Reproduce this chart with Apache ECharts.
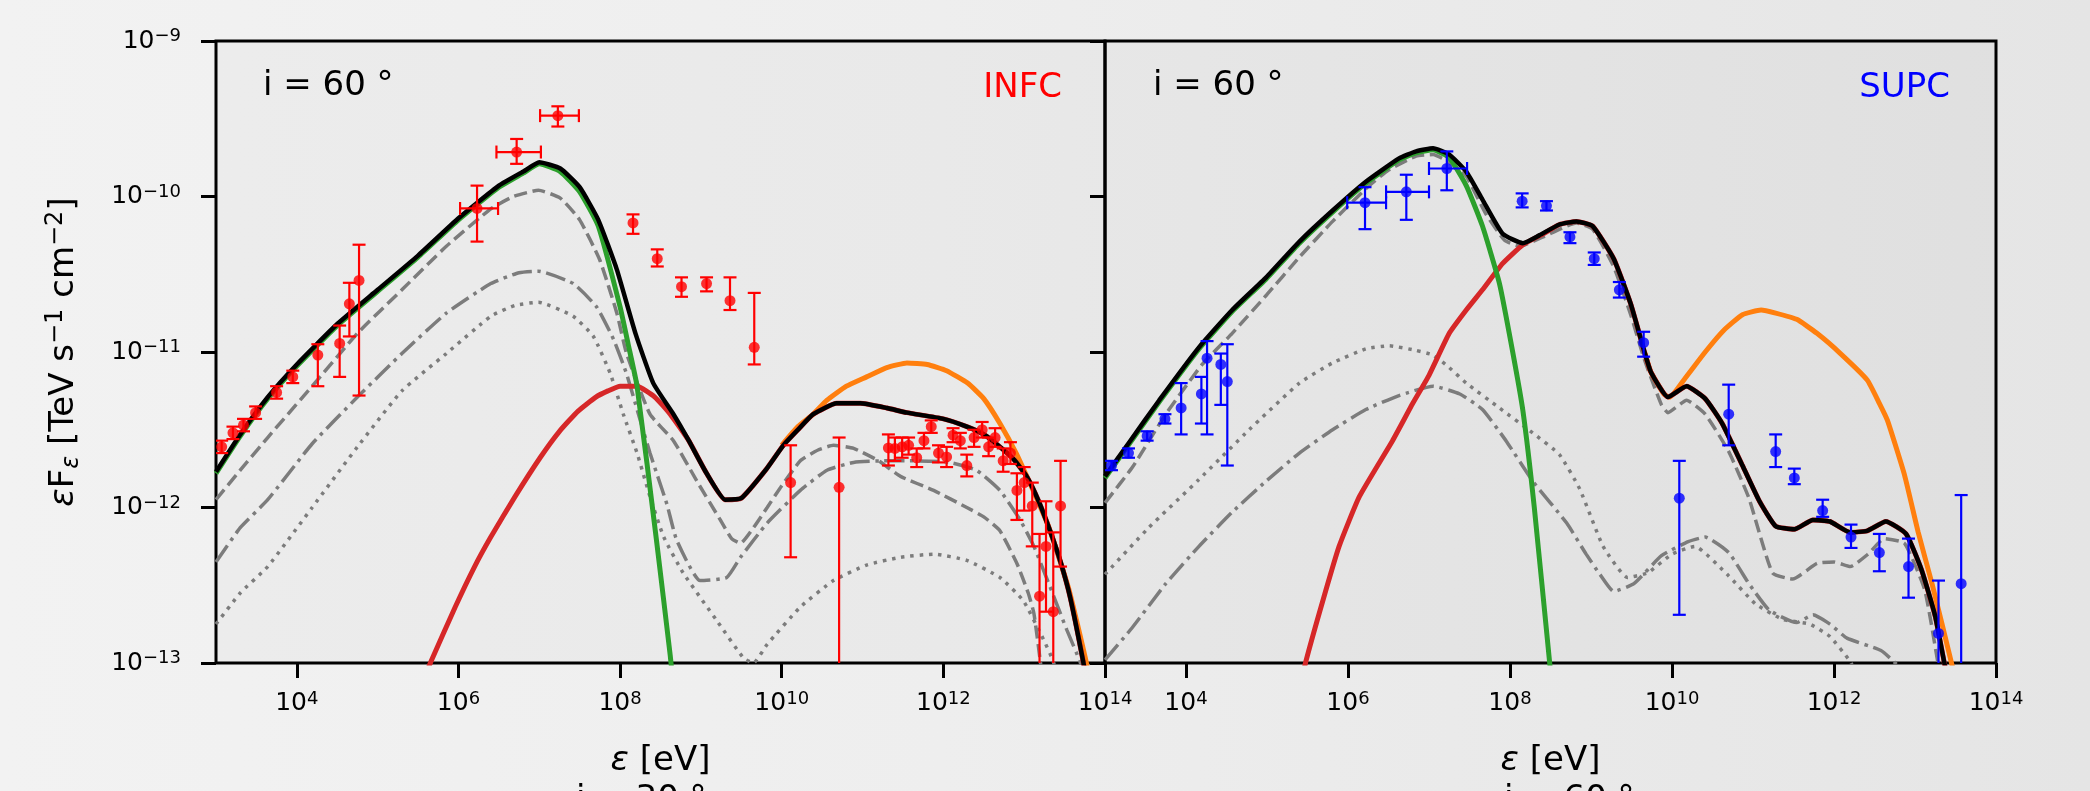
<!DOCTYPE html>
<html>
<head>
<meta charset="utf-8">
<script src="https://cdn.jsdelivr.net/npm/echarts@6/dist/echarts.min.js"></script>
<style>
html, body { margin: 0; padding: 0; width: 2090px; height: 791px; overflow: hidden;
  background: linear-gradient(90deg, #f2f2f2 0%, #eeeeee 45%, #e5e5e5 100%); }
#chart { width: 2090px; height: 791px; }
</style>
</head>
<body>
<div id="chart"></div>
<script>
// every value below is log10: energy in eV, flux in TeV s^-1 cm^-2
const xTicks = [4, 6, 8, 10, 12, 14];
const yTicks = [-13, -12, -11, -10, -9];

// ---- INFC (left) model curves, [log E, log eF] ----
const infcTotal = [[3.0,-11.77],[3.3,-11.53],[3.64,-11.29],[4.0,-11.08],[4.5,-10.82],[5.0,-10.6],[5.5,-10.38],
  [6.0,-10.14],[6.5,-9.93],[6.8,-9.84],[7.0,-9.78],[7.26,-9.82],[7.5,-9.94],[7.73,-10.15],[7.96,-10.47],[8.19,-10.88],
  [8.41,-11.2],[8.66,-11.4],[8.85,-11.57],[9.07,-11.78],[9.3,-11.95],[9.5,-11.94],[9.8,-11.76],[10.02,-11.6],
  [10.2,-11.5],[10.39,-11.4],[10.68,-11.33],[10.97,-11.33],[11.3,-11.36],[11.55,-11.39],[12.0,-11.43],[12.29,-11.48],
  [12.5,-11.53],[12.7,-11.61],[12.87,-11.69],[13.03,-11.8],[13.18,-11.96],[13.32,-12.15],[13.45,-12.35],[13.57,-12.58],
  [13.73,-12.99],[13.8,-13.2]];
const infcSyn = [[3.0,-11.78],[3.3,-11.54],[3.64,-11.3],[4.0,-11.09],[4.5,-10.83],[5.0,-10.61],[5.5,-10.39],
  [6.0,-10.15],[6.5,-9.94],[6.8,-9.85],[7.0,-9.79],[7.26,-9.84],[7.5,-9.97],[7.73,-10.19],[8.0,-10.71],[8.1,-10.95],
  [8.21,-11.22],[8.45,-12.21],[8.62,-12.95],[8.7,-13.35]];
const infcIC = [[5.5,-13.2],[5.66,-12.99],[5.96,-12.64],[6.2,-12.38],[6.4,-12.19],[6.7,-11.93],[7.01,-11.68],
  [7.25,-11.51],[7.48,-11.38],[7.7,-11.29],[7.85,-11.25],[8.0,-11.22],[8.21,-11.22],[8.43,-11.29],[8.62,-11.4],
  [8.85,-11.57],[9.07,-11.78],[9.3,-11.95],[9.5,-11.94],[9.8,-11.76],[10.02,-11.6],[10.2,-11.5],[10.39,-11.4],
  [10.68,-11.33],[10.97,-11.33],[11.3,-11.36],[11.55,-11.39],[12.0,-11.43],[12.29,-11.48],[12.5,-11.53],
  [12.7,-11.61],[12.87,-11.69],[13.03,-11.8],[13.18,-11.96],[13.32,-12.15],[13.45,-12.35],[13.57,-12.58],
  [13.73,-12.99],[13.8,-13.2]];
const infcICnoAbs = [[10.0,-11.6],[10.2,-11.48],[10.39,-11.4],[10.56,-11.31],[10.8,-11.22],[11.05,-11.16],
  [11.3,-11.1],[11.55,-11.07],[11.8,-11.08],[12.04,-11.12],[12.3,-11.2],[12.5,-11.3],[12.7,-11.46],[12.9,-11.65],
  [13.05,-11.82],[13.3,-12.12],[13.55,-12.52],[13.77,-13.0],[13.85,-13.25]];
const infcDash = [[3.0,-11.95],[3.3,-11.76],[3.64,-11.55],[4.19,-11.22],[4.75,-10.88],[5.3,-10.6],[5.85,-10.32],
  [6.4,-10.08],[6.68,-10.0],[6.99,-9.96],[7.26,-10.01],[7.5,-10.15],[7.75,-10.41],[7.96,-10.75],[8.08,-11.01],
  [8.37,-11.4],[8.66,-11.57],[8.95,-11.83],[9.24,-12.08],[9.38,-12.2],[9.49,-12.23],[9.65,-12.13],
  [9.82,-12.0],[10.0,-11.86],[10.23,-11.7],[10.45,-11.63],[10.64,-11.6],[10.89,-11.62],[11.2,-11.7],[11.47,-11.8],
  [11.88,-11.89],[12.29,-12.0],[12.5,-12.06],[12.7,-12.15],[12.91,-12.36],[13.05,-12.55],[13.12,-12.68],
  [13.2,-12.99],[13.25,-13.2]];
const infcDashDot = [[3.0,-12.35],[3.3,-12.13],[3.64,-11.95],[4.19,-11.59],[4.75,-11.29],[5.3,-11.01],[5.85,-10.75],
  [6.4,-10.56],[6.75,-10.49],[6.99,-10.48],[7.42,-10.56],[7.71,-10.71],[7.92,-10.92],[8.08,-11.14],[8.25,-11.44],
  [8.37,-11.65],[8.58,-11.98],[8.7,-12.21],[8.99,-12.47],[9.32,-12.45],[9.49,-12.32],[9.82,-12.1],[10.23,-11.89],
  [10.56,-11.76],[10.89,-11.71],[11.26,-11.7],[11.67,-11.7],[12.08,-11.71],[12.41,-11.76],[12.7,-11.89],
  [12.95,-12.08],[13.12,-12.25],[13.32,-12.51],[13.53,-12.79],[13.69,-12.99],[13.75,-13.1]];
const infcDot = [[3.0,-12.75],[3.3,-12.55],[3.64,-12.38],[4.19,-12.0],[4.75,-11.61],[5.3,-11.25],[5.85,-11.01],
  [6.4,-10.77],[6.7,-10.7],[6.99,-10.68],[7.42,-10.77],[7.67,-10.9],[7.88,-11.14],[8.04,-11.4],[8.21,-11.65],
  [8.37,-11.93],[8.54,-12.19],[8.78,-12.42],[9.2,-12.73],[9.53,-12.97],[9.65,-13.0],[9.82,-12.88],[10.23,-12.64],
  [10.64,-12.47],[11.05,-12.37],[11.47,-12.32],[11.88,-12.3],[12.29,-12.34],[12.7,-12.45],[12.99,-12.6],
  [13.24,-12.85],[13.36,-12.99],[13.45,-13.2]];

// INFC data: [log E, log F, log F low, log F high, (log E low, log E high)]
const infcPts = [[3.07,-11.61,-11.65,-11.57],[3.21,-11.52,-11.56,-11.48],[3.34,-11.47,-11.51,-11.43],
  [3.49,-11.39,-11.43,-11.35],[3.75,-11.26,-11.3,-11.22],[3.95,-11.16,-11.2,-11.12],[4.26,-11.02,-11.22,-10.95],
  [4.53,-10.945,-11.16,-10.83],[4.65,-10.69,-10.9,-10.555],[4.77,-10.54,-11.28,-10.31],
  [6.23,-10.077,-10.29,-9.93,6.02,6.49],[6.72,-9.714,-9.79,-9.63,6.47,7.02],[7.23,-9.48,-9.55,-9.42,7.01,7.49],
  [8.16,-10.17,-10.24,-10.115],[8.46,-10.4,-10.45,-10.34],[8.76,-10.58,-10.645,-10.52],[9.07,-10.56,-10.61,-10.52],
  [9.36,-10.67,-10.73,-10.52],[9.66,-10.97,-11.08,-10.62],[10.11,-11.84,-12.32,-11.6],[10.71,-11.87,-13.5,-11.55],
  [11.32,-11.617,-11.73,-11.53],[11.4,-11.62,-11.7,-11.55],[11.49,-11.61,-11.68,-11.55],[11.57,-11.6,-11.66,-11.55],
  [11.67,-11.68,-11.74,-11.62],[11.76,-11.57,-11.62,-11.52],[11.85,-11.48,-11.52,-11.44],[11.94,-11.65,-11.71,-11.6],
  [12.04,-11.675,-11.74,-11.61],[12.12,-11.535,-11.58,-11.49],[12.21,-11.57,-11.62,-11.52],[12.29,-11.73,-11.8,-11.66],
  [12.38,-11.55,-11.61,-11.5],[12.48,-11.5,-11.55,-11.45],[12.56,-11.61,-11.67,-11.55],[12.64,-11.55,-11.61,-11.49],
  [12.74,-11.7,-11.77,-11.62],[12.83,-11.65,-11.72,-11.58],[12.91,-11.89,-12.08,-11.78],[13.0,-11.84,-12.02,-11.74],
  [13.1,-11.99,-12.25,-11.84],[13.19,-12.57,-13.5,-12.17],[13.27,-12.25,-12.67,-11.96],[13.36,-12.67,-13.5,-12.16],
  [13.45,-11.99,-12.38,-11.7]];

// ---- SUPC (right) model curves ----
const supcTotal = [[3.0,-11.8],[3.3,-11.58],[3.67,-11.31],[4.16,-10.97],[4.57,-10.73],[4.99,-10.52],[5.4,-10.29],
  [5.81,-10.09],[6.22,-9.905],[6.63,-9.755],[6.84,-9.71],[7.05,-9.69],[7.25,-9.73],[7.46,-9.84],[7.66,-10.02],
  [7.91,-10.24],[8.16,-10.3],[8.36,-10.25],[8.61,-10.18],[8.82,-10.16],[9.02,-10.19],[9.28,-10.4],[9.49,-10.69],
  [9.66,-11.0],[9.74,-11.13],[9.95,-11.29],[10.18,-11.22],[10.41,-11.3],[10.62,-11.46],[10.87,-11.73],[11.08,-11.96],
  [11.28,-12.12],[11.51,-12.14],[11.74,-12.08],[11.95,-12.09],[12.2,-12.16],[12.41,-12.15],[12.64,-12.09],
  [12.89,-12.17],[13.08,-12.4],[13.25,-12.7],[13.37,-13.02],[13.45,-13.2]];
const supcSyn = [[3.0,-11.81],[3.3,-11.59],[3.67,-11.32],[4.16,-10.98],[4.57,-10.74],[4.99,-10.53],[5.4,-10.3],
  [5.81,-10.1],[6.22,-9.915],[6.63,-9.765],[6.84,-9.72],[7.05,-9.7],[7.25,-9.75],[7.46,-9.93],[7.66,-10.19],
  [7.87,-10.56],[8.03,-10.99],[8.16,-11.38],[8.3,-12.0],[8.49,-13.0],[8.55,-13.3]];
const supcIC = [[5.35,-13.3],[5.48,-12.99],[5.7,-12.58],[5.89,-12.25],[6.14,-11.93],[6.55,-11.57],[6.8,-11.33],
  [7.0,-11.15],[7.25,-10.88],[7.46,-10.73],[7.66,-10.6],[7.91,-10.43],[8.16,-10.31],[8.41,-10.24],[8.61,-10.18],
  [8.82,-10.16],[9.02,-10.19],[9.28,-10.4],[9.49,-10.69],[9.66,-11.0],[9.74,-11.13],[9.95,-11.29],[10.18,-11.22],
  [10.41,-11.3],[10.62,-11.46],[10.87,-11.73],[11.08,-11.96],[11.28,-12.12],[11.51,-12.14],[11.74,-12.08],
  [11.95,-12.09],[12.2,-12.16],[12.41,-12.15],[12.64,-12.09],[12.89,-12.17],[13.08,-12.4],[13.25,-12.7],
  [13.37,-13.02],[13.45,-13.2]];
const supcICnoAbs = [[9.66,-11.0],[9.74,-11.13],[9.9,-11.27],[9.97,-11.29],[10.16,-11.17],[10.41,-11.0],
  [10.64,-10.86],[10.87,-10.76],[11.1,-10.73],[11.28,-10.75],[11.54,-10.79],[11.79,-10.88],[12.08,-11.01],
  [12.41,-11.18],[12.56,-11.33],[12.66,-11.44],[12.87,-11.79],[13.04,-12.16],[13.21,-12.49],[13.46,-13.02],[13.52,-13.2]];
const supcDash = [[3.0,-11.97],[3.34,-11.74],[3.75,-11.4],[4.2,-11.08],[4.57,-10.88],[5.0,-10.63],[5.4,-10.39],
  [5.81,-10.16],[6.22,-9.95],[6.5,-9.83],[6.84,-9.74],[7.05,-9.73],[7.25,-9.78],[7.46,-9.87],[7.7,-10.11],
  [7.93,-10.28],[8.12,-10.32],[8.41,-10.26],[8.82,-10.17],[9.02,-10.21],[9.28,-10.45],[9.49,-10.76],[9.66,-11.05],
  [9.87,-11.34],[9.95,-11.39],[10.18,-11.31],[10.41,-11.4],[10.7,-11.64],[10.95,-11.94],[11.24,-12.42],
  [11.49,-12.46],[11.79,-12.36],[12.0,-12.35],[12.2,-12.38],[12.42,-12.3],[12.62,-12.2],[12.87,-12.23],
  [13.12,-12.53],[13.29,-13.02],[13.35,-13.2]];
const supcDashDot = [[3.0,-12.98],[3.34,-12.77],[3.75,-12.49],[4.16,-12.25],[4.57,-12.03],[4.99,-11.83],
  [5.4,-11.65],[5.81,-11.5],[6.22,-11.37],[6.63,-11.28],[7.05,-11.22],[7.38,-11.27],[7.66,-11.37],[7.95,-11.57],
  [8.28,-11.83],[8.7,-12.1],[8.94,-12.3],[9.11,-12.43],[9.28,-12.54],[9.53,-12.49],[9.87,-12.31],[10.2,-12.22],
  [10.41,-12.19],[10.7,-12.29],[10.95,-12.49],[11.2,-12.66],[11.54,-12.74],[11.74,-12.69],[11.95,-12.75],
  [12.16,-12.84],[12.58,-12.92],[12.79,-13.02],[12.9,-13.15]];
const supcDot = [[3.0,-12.43],[3.54,-12.13],[4.16,-11.82],[4.78,-11.5],[5.4,-11.2],[5.81,-11.07],[6.22,-10.98],
  [6.51,-10.96],[6.84,-10.99],[7.05,-11.02],[7.25,-11.1],[7.46,-11.2],[7.87,-11.36],[8.28,-11.52],[8.61,-11.66],
  [8.86,-11.88],[9.15,-12.25],[9.45,-12.45],[9.7,-12.42],[10.0,-12.3],[10.28,-12.25],[10.7,-12.44],[11.03,-12.62],
  [11.37,-12.72],[11.7,-12.75],[11.95,-12.83],[12.2,-12.99],[12.3,-13.1]];

const supcPts = [[3.08,-11.73,-11.76,-11.7],[3.29,-11.65,-11.68,-11.62],[3.52,-11.54,-11.57,-11.51],
  [3.74,-11.43,-11.46,-11.4],[3.94,-11.36,-11.53,-11.2],[4.19,-11.27,-11.46,-11.16],[4.26,-11.04,-11.53,-10.93],
  [4.43,-11.08,-11.34,-11.01],[4.51,-11.19,-11.73,-10.95],
  [6.21,-10.04,-10.21,-9.94,5.99,6.47],[6.72,-9.97,-10.15,-9.86,6.47,7.0],[7.22,-9.82,-9.96,-9.71,7.0,7.47],
  [8.15,-10.03,-10.07,-9.98],[8.45,-10.06,-10.09,-10.03],[8.74,-10.26,-10.3,-10.23],[9.04,-10.4,-10.44,-10.36],
  [9.35,-10.6,-10.65,-10.55],[9.65,-10.94,-11.03,-10.87],[10.09,-11.94,-12.69,-11.7],[10.7,-11.4,-11.6,-11.21],
  [11.28,-11.64,-11.74,-11.53],[11.51,-11.81,-11.85,-11.75],[11.86,-12.02,-12.06,-11.95],[12.21,-12.19,-12.26,-12.11],
  [12.56,-12.29,-12.41,-12.17],[12.92,-12.38,-12.58,-12.2],[13.29,-12.81,-13.5,-12.47],[13.57,-12.49,-13.5,-11.92]];

const pw = v => Math.pow(10, v);
const toXY = arr => arr.map(p => [pw(p[0]), pw(p[1])]);
const toErr = arr => arr.map(r => [pw(r[0]), pw(r[1]), pw(r[2]), pw(r[3]),
  r.length > 4 ? pw(r[4]) : 0, r.length > 4 ? pw(r[5]) : 0]);

const FONT = 'DejaVu Sans';
const GREY = '#7c7c7c';

function powLabel(v) {
  const e = Math.round(Math.log10(v));
  return '{b|10}{s|' + (e < 0 ? '\u2212' + (-e) : e) + '}';
}
const tickRich = {
  b: { fontSize: 25, fontFamily: FONT, color: '#000', lineHeight: 27, verticalAlign: 'middle' },
  s: { fontSize: 18, fontFamily: FONT, color: '#000', lineHeight: 13, verticalAlign: 'top' }
};

function curve(data, i, color, width, dash, z) {
  return { type: 'line', xAxisIndex: i, yAxisIndex: i, data: toXY(data), symbol: 'none',
    smooth: 0.15, silent: true, z: z,
    lineStyle: { color: color, width: width, type: dash || 'solid', cap: 'butt' } };
}

function errSeries(rows, i, color) {
  return {
    type: 'custom', xAxisIndex: i, yAxisIndex: i, data: toErr(rows), clip: true, z: 6, silent: true,
    encode: { x: 0, y: 1 },
    renderItem: function (params, api) {
      const x = api.value(0), y = api.value(1);
      const lo = api.coord([x, api.value(2)]);
      const hi = api.coord([x, api.value(3)]);
      const c = api.coord([x, y]);
      const cap = 6.5;
      const st = { stroke: color, lineWidth: 2.2 };
      const kids = [
        { type: 'line', shape: { x1: lo[0], y1: lo[1], x2: hi[0], y2: hi[1] }, style: st },
        { type: 'line', shape: { x1: lo[0] - cap, y1: lo[1], x2: lo[0] + cap, y2: lo[1] }, style: st },
        { type: 'line', shape: { x1: hi[0] - cap, y1: hi[1], x2: hi[0] + cap, y2: hi[1] }, style: st }
      ];
      const xl = api.value(4), xh = api.value(5);
      if (xl > 0) {
        const l = api.coord([xl, y]), h = api.coord([xh, y]);
        kids.push({ type: 'line', shape: { x1: l[0], y1: c[1], x2: h[0], y2: c[1] }, style: st });
        kids.push({ type: 'line', shape: { x1: l[0], y1: c[1] - cap, x2: l[0], y2: c[1] + cap }, style: st });
        kids.push({ type: 'line', shape: { x1: h[0], y1: c[1] - cap, x2: h[0], y2: c[1] + cap }, style: st });
      }
      return { type: 'group', children: kids };
    }
  };
}

function dots(rows, i, color) {
  return { type: 'scatter', xAxisIndex: i, yAxisIndex: i, data: toXY(rows), symbol: 'circle',
    symbolSize: 11, itemStyle: { color: color }, z: 7, silent: true };
}

function panel(i, total, syn, ic, icNoAbs, dash, dashDot, dot, pts, color) {
  return [
    curve(dot, i, GREY, 3.5, [3.5, 5.8], 1),
    curve(dashDot, i, GREY, 3.5, [20, 5.6, 3.5, 5.6], 1),
    curve(dash, i, GREY, 3.5, [13, 5.6], 1),
    curve(icNoAbs, i, '#ff7f0e', 5, null, 2),
    curve(ic, i, '#d62728', 5, null, 3),
    curve(syn, i, '#2ca02c', 5, null, 4),
    curve(total, i, '#000000', 4.5, null, 5),
    errSeries(pts, i, color),
    dots(pts, i, color)
  ];
}

function xAxis(i) {
  return {
    type: 'log', gridIndex: i, min: 1e3, max: 1e14, logBase: 10,
    axisLine: { show: false }, splitLine: { show: false },
    axisTick: { customValues: xTicks.map(pw), length: 15, lineStyle: { color: '#000', width: 3 } },
    axisLabel: { customValues: xTicks.map(pw), margin: 27, formatter: powLabel, rich: tickRich },
    name: '{e|\u03b5} [eV]', nameLocation: 'middle', nameGap: 78,
    nameTextStyle: { fontSize: 34, fontFamily: FONT, color: '#000', lineHeight: 40,
      rich: { e: { fontSize: 34, fontFamily: FONT, fontStyle: 'italic', color: '#000', lineHeight: 40 } } }
  };
}

function yAxis(i) {
  const a = {
    type: 'log', gridIndex: i, min: 1e-13, max: 1e-9, logBase: 10,
    axisLine: { show: false }, splitLine: { show: false },
    axisTick: { customValues: yTicks.map(pw), length: 15, lineStyle: { color: '#000', width: 3 } },
    axisLabel: { show: i === 0, customValues: yTicks.map(pw), margin: 35, formatter: powLabel, rich: tickRich }
  };
  if (i === 0) {
    a.name = '{e|\u03b5}F{sb|\u03b5} [TeV s{sp|\u22121} cm{sp|\u22122}]';
    a.nameLocation = 'middle';
    a.nameGap = 132;
    a.nameTextStyle = { fontSize: 34, fontFamily: FONT, color: '#000', lineHeight: 40,
      rich: {
        e: { fontSize: 34, fontFamily: FONT, fontStyle: 'italic', color: '#000', lineHeight: 40 },
        sb: { fontSize: 24, fontFamily: FONT, fontStyle: 'italic', color: '#000', lineHeight: 18, verticalAlign: 'bottom' },
        sp: { fontSize: 24, fontFamily: FONT, color: '#000', lineHeight: 18, verticalAlign: 'top' }
      } };
  }
  return a;
}

function label(x, y, text, color, align) {
  return { type: 'text', x: x, y: y, silent: true,
    style: { text: text, fill: color, font: '34px "DejaVu Sans"', textAlign: align, textVerticalAlign: 'middle' } };
}

const chart = echarts.init(document.getElementById('chart'), null, { renderer: 'canvas' });
chart.setOption({
  animation: false,
  backgroundColor: 'transparent',
  grid: [
    { left: 216, top: 41, width: 889, height: 622, show: true, borderColor: '#000', borderWidth: 3,
      backgroundColor: 'rgba(0,0,0,0.018)' },
    { left: 1105, top: 41, width: 891, height: 622, show: true, borderColor: '#000', borderWidth: 3,
      backgroundColor: 'rgba(0,0,0,0.025)' }
  ],
  xAxis: [xAxis(0), xAxis(1)],
  yAxis: [yAxis(0), yAxis(1)],
  series: [].concat(
    panel(0, infcTotal, infcSyn, infcIC, infcICnoAbs, infcDash, infcDashDot, infcDot, infcPts, '#ff0000'),
    panel(1, supcTotal, supcSyn, supcIC, supcICnoAbs, supcDash, supcDashDot, supcDot, supcPts, '#0000ff')
  ),
  graphic: [
    label(263, 86, 'i = 60 \u00b0', '#000', 'left'),
    label(1062, 88, 'INFC', '#ff0000', 'right'),
    label(1153, 86, 'i = 60 \u00b0', '#000', 'left'),
    label(1950, 88, 'SUPC', '#0000ff', 'right'),
    label(576, 800, 'i = 30 \u00b0', '#000', 'left'),
    label(1504, 800, 'i = 60 \u00b0', '#000', 'left')
  ]
});
</script>
</body>
</html>
